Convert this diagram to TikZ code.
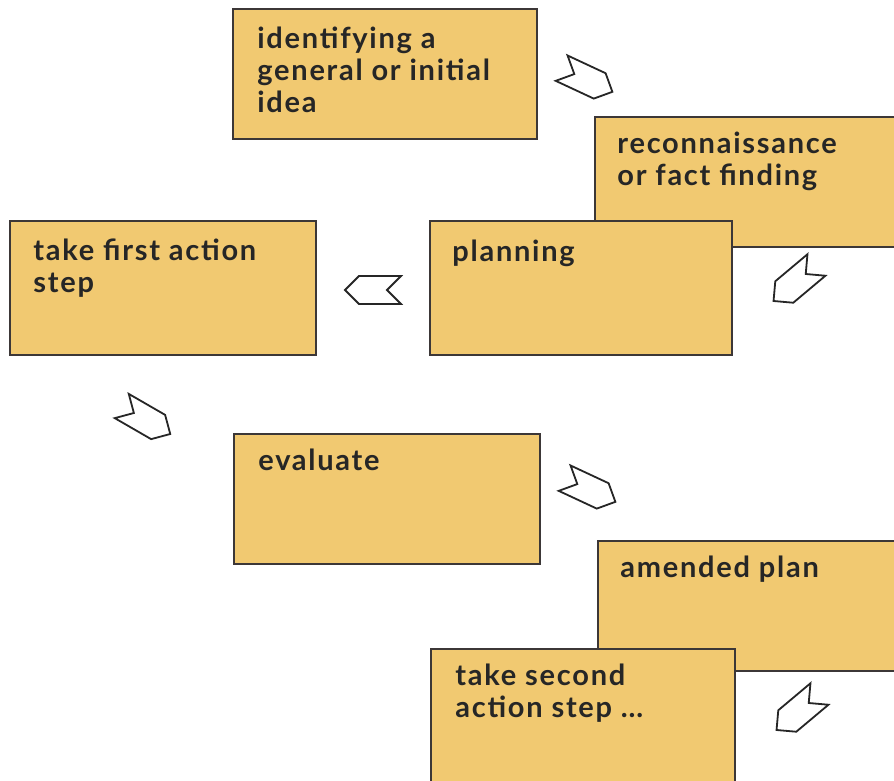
\documentclass[tikz,border=0pt]{standalone}
\usepackage{fontspec}
\setmainfont{Lato}
\newfontfamily\stagefont{Lato}[LetterSpace=6]
\usetikzlibrary{positioning, shapes.symbols}
\definecolor{stagefill}{RGB}{241,201,113}
\definecolor{stageline}{RGB}{60,55,55}

\begin{document}
\begin{tikzpicture}[
    x=0.5pt, y=-0.5pt,
    stage/.style={rectangle, draw=stageline, line width=0.8pt, fill=stagefill, anchor=north west, inner sep=0pt, minimum height=65pt},
    stagetext/.style={font=\stagefont\fontsize{14.5}{16}\selectfont\bfseries, text=black!85, align=left, inner sep=0pt},
    cycarrow/.style={signal, signal to=east, signal from=west, draw=black!85, line width=0.9pt, fill=white, minimum width=28pt, minimum height=14pt, inner sep=0pt}
]
    % --- Page frame ---
    \useasboundingbox (0,0) rectangle (894,781);
    \clip (0,0) rectangle (894,781);
    \fill[white] (0,0) rectangle (894,781);

    % --- Stages of the cycle ---
    \node[stage, minimum width=152pt] (idea) at (232,8) {};
    \node[stagetext, below right=9.5pt and 12.5pt of idea.north west] (idea-txt) {identifying a\\general or initial\\idea};

    \node[stage, minimum width=165pt] (recon) at (594,116) {};
    \node[stagetext, below right=8pt and 11.5pt of recon.north west] (recon-txt) {reconnaissance\\or fact finding};

    \node[stage, minimum width=151pt, minimum height=67pt] (plan) at (429,220) {};
    \node[stagetext, below right=10pt and 11.5pt of plan.north west] (plan-txt) {planning};

    \node[stage, minimum width=153pt, minimum height=67pt] (act1) at (9,220) {};
    \node[stagetext, below right=9pt and 12pt of act1.north west] (act1-txt) {take first action\\step};

    \node[stage, minimum width=153pt] (eval) at (233,433) {};
    \node[stagetext, below right=8pt and 12.5pt of eval.north west] (eval-txt) {evaluate};

    \node[stage, minimum width=165pt] (amend) at (597,540) {};
    \node[stagetext, below right=8pt and 11.5pt of amend.north west] (amend-txt) {amended plan};

    \node[stage, minimum width=152pt, minimum height=72pt] (act2) at (430,648) {};
    \node[stagetext, below right=8pt and 12.5pt of act2.north west] (act2-txt) {take second\\action step \dots};

    % --- Arrows between stages ---
    \node[cycarrow, rotate=-25] (idea-recon) at (587,80) {};
    \node[cycarrow, rotate=220] (recon-plan) at (795,283) {};
    \node[cycarrow, rotate=180] (plan-act1) at (373,290) {};
    \node[cycarrow, rotate=-30] (act1-eval) at (146,420) {};
    \node[cycarrow, rotate=-25] (eval-amend) at (590,490) {};
    \node[cycarrow, rotate=220] (amend-act2) at (798,712) {};

\end{tikzpicture}
\end{document}
